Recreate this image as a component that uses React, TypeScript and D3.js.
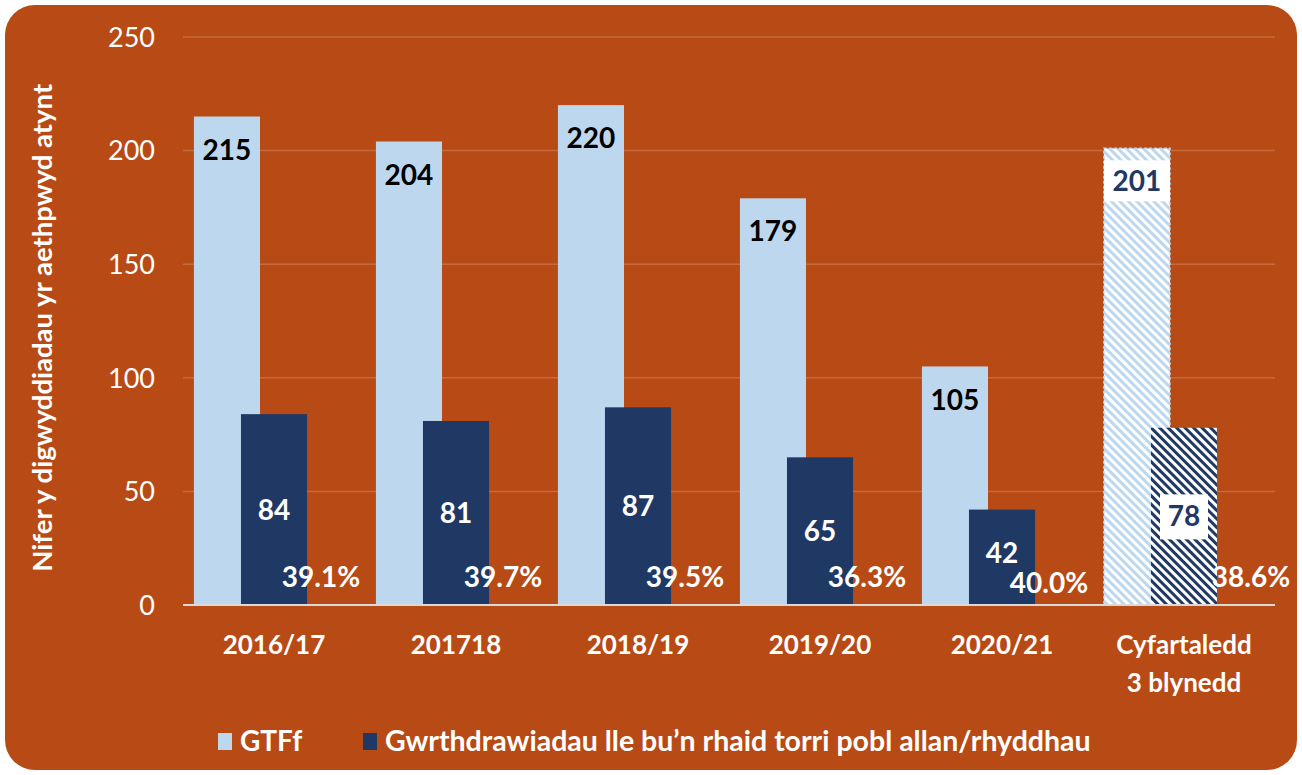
import * as d3 from 'd3';
import React from 'react';

const categories = ['2016/17', '201718', '2018/19', '2019/20', '2020/21', 'Cyfartaledd\n3 blynedd'];
const gtff = [215, 204, 220, 179, 105, 201];
const extrications = [84, 81, 87, 65, 42, 78];
const percents = ['39.1%', '39.7%', '39.5%', '36.3%', '40.0%', '38.6%'];
const yTicks = [0, 50, 100, 150, 200, 250];
const legendLabels = ['GTFf', 'Gwrthdrawiadau lle bu\u2019n rhaid torri pobl allan/rhyddhau'];
const yTitle = 'Nifer y digwyddiadau yr aethpwyd atynt';

const W = 1302, H = 775;
const BG = '#B84A15';
const LIGHT = '#BDD7EE';
const NAVY = '#1F3864';
const FONT = 'Lato, "Open Sans", sans-serif';

export default function App() {
  const x = d3.scaleBand().domain(categories).range([183, 1275]).padding(0);
  const y = d3.scaleLinear().domain([0, 250]).range([605, 37]);
  const barW = x.bandwidth() * 0.363;
  const step = barW * 0.712;
  const last = categories.length - 1;
  const left = (c: string, i: number) => (x(c) as number) + x.bandwidth() / 2 - (barW + 2 * step) / 2 + i * step;

  return (
    <svg width={W} height={H} style={{ position: 'fixed', left: 0, top: 0 }} fontFamily={FONT}>
      <defs>
        <pattern id="hatchLight" width="6" height="6" patternUnits="userSpaceOnUse" patternTransform="rotate(-45)">
          <rect width="6" height="6" fill="#fff" />
          <rect width="3" height="6" fill={LIGHT} />
        </pattern>
        <pattern id="hatchDark" width="6" height="6" patternUnits="userSpaceOnUse" patternTransform="rotate(-45)">
          <rect width="6" height="6" fill="#fff" />
          <rect width="3" height="6" fill={NAVY} />
        </pattern>
      </defs>
      <rect x={0} y={0} width={W} height={H} fill="#fff" />
      <rect x={5} y={5} width={1292} height={765} rx={30} fill={BG} />

      {yTicks.filter(t => t > 0).map(t => (
        <line key={t} x1={183} x2={1275} y1={y(t)} y2={y(t)} stroke="#fff" strokeOpacity={0.18} strokeWidth={1.5} />
      ))}
      {yTicks.map(t => (
        <text key={t} x={155} y={y(t)} dy="0.36em" textAnchor="end" fill="#fff" fontSize={27}>{t}</text>
      ))}

      <text transform={`translate(42,${y(122)}) rotate(-90)`} textAnchor="middle" dy="0.36em"
        fill="#fff" fontSize={27.5} fontWeight="bold">{yTitle}</text>

      {categories.map((c, i) => {
        const lx = left(c, 0), dx = left(c, 1), px = left(c, 2);
        const avg = i === last;
        const mid = (y(extrications[i]) + y(0)) / 2;
        const crowded = mid > y(0) - 52;
        const darkY = crowded ? y(0) - 52 : mid;
        const pctY = crowded ? y(0) - 22 : y(0) - 28;
        return (
          <g key={c}>
            <rect x={lx} y={y(gtff[i])} width={barW} height={y(0) - y(gtff[i])}
              fill={avg ? 'url(#hatchLight)' : LIGHT}
              stroke={avg ? LIGHT : 'none'} strokeDasharray={avg ? '3 2' : undefined} strokeWidth={1.5} />
            <rect x={dx} y={y(extrications[i])} width={barW} height={y(0) - y(extrications[i])}
              fill={avg ? 'url(#hatchDark)' : NAVY} />
            {avg && <rect x={lx} y={y(gtff[i]) + 12} width={barW} height={41} fill="#fff" />}
            {avg && <rect x={dx + barW / 2 - 24} y={darkY - 22} width={48} height={45} fill="#fff" />}
            <text x={lx + barW / 2} y={y(gtff[i]) + 33} dy="0.36em" textAnchor="middle"
              fill={avg ? NAVY : '#000'} fontSize={28} fontWeight="bold">{gtff[i]}</text>
            <text x={dx + barW / 2} y={darkY} dy="0.36em" textAnchor="middle"
              fill={avg ? NAVY : '#fff'} fontSize={28} fontWeight="bold">{extrications[i]}</text>
            <text x={px + barW / 2 + (avg ? 20 : 0)} y={pctY} dy="0.36em" textAnchor="middle"
              fill="#fff" fontSize={28} fontWeight="bold">{percents[i]}</text>
            {c.split('\n').map((line, j) => (
              <text key={j} x={(x(c) as number) + x.bandwidth() / 2} y={645 + j * 38} dy="0.36em"
                textAnchor="middle" fill="#fff" fontSize={26} fontWeight="bold">{line}</text>
            ))}
          </g>
        );
      })}

      <line x1={183} x2={1275} y1={y(0)} y2={y(0)} stroke="#D9D9D9" strokeWidth={2} />

      <g>
        <rect x={218} y={733} width={14} height={17} fill={LIGHT} />
        <text x={240} y={741} dy="0.36em" fill="#fff" fontSize={28} fontWeight="bold">{legendLabels[0]}</text>
        <rect x={363} y={733} width={14} height={17} fill={NAVY} />
        <text x={385} y={741} dy="0.36em" fill="#fff" fontSize={28.5} fontWeight="bold">{legendLabels[1]}</text>
      </g>
    </svg>
  );
}
